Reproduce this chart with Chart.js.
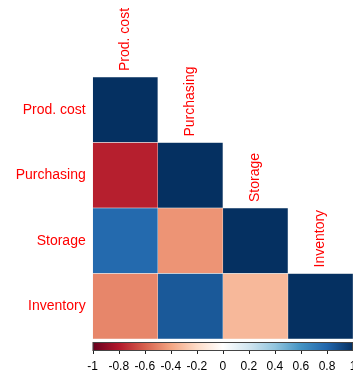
<!DOCTYPE html>
<html>
<head>
<meta charset="utf-8">
<script src="https://cdn.jsdelivr.net/npm/chart.js@4/dist/chart.umd.min.js"></script>
<style>
  html, body { margin: 0; padding: 0; background: #fff; }
  #wrap { width: 353px; height: 376px; position: relative; }
</style>
</head>
<body>
<div id="wrap"><canvas id="c"></canvas></div>
<script>
// Variables of the correlation matrix (rows top-to-bottom, columns left-to-right)
const variables = ['Prod. cost', 'Purchasing', 'Storage', 'Inventory'];

// Lower-triangle correlation coefficients, one array per row
const rowProdCost   = [1];
const rowPurchasing = [-0.78, 1];
const rowStorage    = [0.78, -0.45, 1];
const rowInventory  = [-0.49, 0.85, -0.33, 1];
const correlations = [rowProdCost, rowPurchasing, rowStorage, rowInventory];

// Colour legend ticks
const legendTicks = [-1, -0.8, -0.6, -0.4, -0.2, 0, 0.2, 0.4, 0.6, 0.8, 1];
const legendTickLabels = ['-1', '-0.8', '-0.6', '-0.4', '-0.2', '0', '0.2', '0.4', '0.6', '0.8', '1'];

// Diverging red-white-blue palette from -1 to 1
const paletteStops = ['#67001F', '#B2182B', '#D6604D', '#F4A582', '#FDDBC7', '#FFFFFF',
                      '#D1E5F0', '#92C5DE', '#4393C3', '#2166AC', '#053061'];

function hexToRgb(h) {
  return [parseInt(h.slice(1, 3), 16), parseInt(h.slice(3, 5), 16), parseInt(h.slice(5, 7), 16)];
}
function colorFor(v) {
  const t = (Math.max(-1, Math.min(1, v)) + 1) / 2 * (paletteStops.length - 1);
  const i = Math.min(Math.floor(t), paletteStops.length - 2);
  const f = t - i;
  const a = hexToRgb(paletteStops[i]), b = hexToRgb(paletteStops[i + 1]);
  const c = a.map((x, k) => Math.round(x + (b[k] - x) * f));
  return `rgb(${c[0]},${c[1]},${c[2]})`;
}

// One floating-bar dataset per column; each cell spans [col, col+1] on the x scale
const datasets = variables.map((name, col) => ({
  label: name,
  data: variables.map((_, row) => (col <= row ? [col, col + 1] : null)),
  backgroundColor: variables.map((_, row) => (col <= row ? colorFor(correlations[row][col]) : 'rgba(0,0,0,0)')),
  borderColor: 'rgba(235,235,235,0.9)',
  borderWidth: 0.5,
  borderSkipped: false,
  grouped: false,
  barPercentage: 1,
  categoryPercentage: 1
}));

const FONT = '"Liberation Sans", Arial, sans-serif';

// Column labels above the diagonal and the colour legend below the grid
const decorations = {
  id: 'decorations',
  afterDraw(chart) {
    const ctx = chart.ctx;
    const xs = chart.scales.x, ys = chart.scales.y;
    const area = chart.chartArea;

    // rotated column labels
    ctx.save();
    ctx.fillStyle = '#FF0000';
    ctx.font = '14px ' + FONT;
    ctx.textAlign = 'left';
    ctx.textBaseline = 'middle';
    variables.forEach((name, col) => {
      const cx = xs.getPixelForValue(col + 0.5);
      const half = (ys.getPixelForValue(1) - ys.getPixelForValue(0)) / 2;
      const topY = ys.getPixelForValue(col) - half;
      ctx.save();
      ctx.translate(cx, topY - 6);
      ctx.rotate(-Math.PI / 2);
      ctx.fillText(name, 0, 0);
      ctx.restore();
    });
    ctx.restore();

    // colour legend bar
    const px = v => xs.getPixelForValue((v + 1) * 2);
    const barTop = area.bottom + 3, barH = 9;
    const x0 = px(-1), x1 = px(1);
    const grad = ctx.createLinearGradient(x0, 0, x1, 0);
    paletteStops.forEach((c, i) => grad.addColorStop(i / (paletteStops.length - 1), c));
    ctx.save();
    ctx.fillStyle = grad;
    ctx.fillRect(x0, barTop, x1 - x0, barH);
    ctx.strokeStyle = '#444';
    ctx.lineWidth = 1;
    ctx.strokeRect(x0 + 0.5, barTop + 0.5, x1 - x0 - 1, barH - 1);

    ctx.strokeStyle = '#222';
    ctx.fillStyle = '#000';
    ctx.font = '12px ' + FONT;
    ctx.textAlign = 'center';
    ctx.textBaseline = 'middle';
    legendTicks.forEach((v, i) => {
      const x = Math.round(px(v)) + 0.5;
      ctx.beginPath();
      ctx.moveTo(x, barTop + barH);
      ctx.lineTo(x, barTop + barH + 3);
      ctx.stroke();
      ctx.fillText(legendTickLabels[i], px(v), barTop + barH + 15.5);
    });
    ctx.restore();
  }
};

new Chart(document.getElementById('c'), {
  type: 'bar',
  data: { labels: variables, datasets },
  options: {
    indexAxis: 'y',
    responsive: true,
    maintainAspectRatio: false,
    animation: false,
    layout: { padding: { top: 77, bottom: 37, left: 0, right: 0 } },
    plugins: { legend: { display: false }, tooltip: { enabled: false } },
    scales: {
      x: { type: 'linear', min: 0, max: 4, display: false },
      y: {
        type: 'category',
        offset: true,
        grid: { display: false, drawTicks: false },
        border: { display: false },
        ticks: { color: '#FF0000', font: { family: FONT, size: 14 }, padding: 7 },
        afterFit(s) { s.width = 92.7; }
      }
    }
  },
  plugins: [decorations]
});
</script>
</body>
</html>
